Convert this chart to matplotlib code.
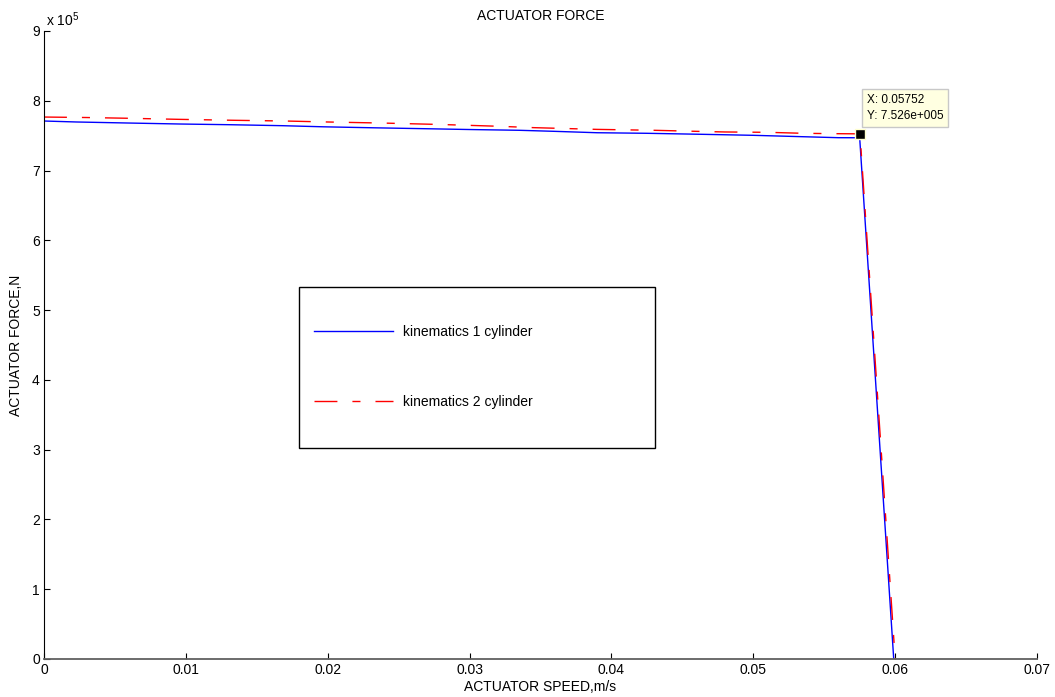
import matplotlib
matplotlib.use("Agg")
import matplotlib.pyplot as plt
from matplotlib.patches import Rectangle
from matplotlib.ticker import FuncFormatter

plt.rcParams['font.family'] = ['Liberation Sans', 'DejaVu Sans']
plt.rcParams['mathtext.fontset'] = 'custom'
plt.rcParams['mathtext.rm'] = 'Liberation Sans'
plt.rcParams['font.size'] = 10

# actuator speed (m/s) and force (N)
speed_1 = [0, 0.0023, 0.0060, 0.0096, 0.0131, 0.0168, 0.0197, 0.0232, 0.0268,
           0.0300, 0.0335, 0.0360, 0.0390, 0.0425, 0.0465, 0.0500, 0.0535,
           0.0560, 0.0575, 0.0599]
force_1 = [7.710e5, 7.696e5, 7.681e5, 7.667e5, 7.657e5, 7.643e5, 7.627e5,
           7.613e5, 7.600e5, 7.588e5, 7.577e5, 7.562e5, 7.542e5, 7.534e5,
           7.519e5, 7.505e5, 7.485e5, 7.471e5, 7.470e5, 0]

speed_2 = [0, 0.0030, 0.0060, 0.0095, 0.0135, 0.0170, 0.0200, 0.0240, 0.0280,
           0.0320, 0.0345, 0.0390, 0.0430, 0.0460, 0.0480, 0.0510, 0.0535,
           0.0555, 0.05752, 0.0600]
force_2 = [7.767e5, 7.760e5, 7.749e5, 7.734e5, 7.720e5, 7.710e5, 7.696e5,
           7.680e5, 7.660e5, 7.635e5, 7.615e5, 7.590e5, 7.577e5, 7.562e5,
           7.553e5, 7.548e5, 7.534e5, 7.529e5, 7.526e5, 0]

tip_x = 0.05752
tip_y = 7.526e5

x_ticks = [0, 0.01, 0.02, 0.03, 0.04, 0.05, 0.06, 0.07]
x_labels = ['0', '0.01', '0.02', '0.03', '0.04', '0.05', '0.06', '0.07']
y_ticks = [i * 1e5 for i in range(10)]

fig = plt.figure(figsize=(10.55, 6.97), dpi=100)
ax = fig.add_axes([44 / 1055, 38 / 697, 993 / 1055, 628 / 697])

ax.plot(speed_1, force_1, color='#0000FF', lw=1, label='kinematics 1 cylinder')
ax.plot(speed_2, force_2, color='#FF0000', lw=1,
        linestyle=(0, (16.5, 10.8, 5.8, 10.8)), label='kinematics 2 cylinder')

# data tip
ax.plot([tip_x], [tip_y], marker='s', color='black', markersize=7,
        markeredgecolor='#FFFFD0', markeredgewidth=1, zorder=5)
ax.annotate('X: {}\nY: 7.526e+005'.format(tip_x), xy=(tip_x, tip_y),
            xytext=(5, 8.5), textcoords='offset points', ha='left', va='bottom',
            fontsize=8.5, linespacing=1.45,
            bbox=dict(boxstyle='square,pad=0.4', fc='#FFFFE1', ec='#C8C8C8', lw=1))

ax.set_xlim(0, 0.07)
ax.set_ylim(0, 9e5)
ax.set_xticks(x_ticks)
ax.set_xticklabels(x_labels)
ax.set_yticks(y_ticks)
ax.yaxis.set_major_formatter(FuncFormatter(lambda v, p: '{:g}'.format(v / 1e5)))
ax.tick_params(direction='in', length=4, width=0.8, labelsize=10, pad=3)

ax.spines['top'].set_visible(False)
ax.spines['right'].set_visible(False)
ax.spines['left'].set_color('black')
ax.spines['bottom'].set_color('#606060')
ax.spines['bottom'].set_linewidth(1.3)

ax.text(0.002, 1.003, r'x 10$^5$', transform=ax.transAxes, ha='left',
        va='bottom', fontsize=10)

ax.set_title('ACTUATOR FORCE', fontsize=10, pad=8)
ax.set_xlabel('ACTUATOR SPEED,m/s', fontsize=10, labelpad=2)
ax.set_ylabel('ACTUATOR FORCE,N', fontsize=10)
ax.yaxis.set_label_coords(-0.021, 0.5)

# legend with a square frame drawn separately
ax.add_patch(Rectangle((0.2568, 0.336), 0.6153 - 0.2568, 0.5924 - 0.336,
                       transform=ax.transAxes, fill=False, ec='black', lw=1))
ax.legend(loc='center left', bbox_to_anchor=(0.2719, 0.465), frameon=False,
          borderpad=0, borderaxespad=0, handlelength=5.7, handletextpad=0.72,
          labelspacing=4.0, fontsize=10)

fig.savefig('out.png', dpi=100, facecolor='white')
